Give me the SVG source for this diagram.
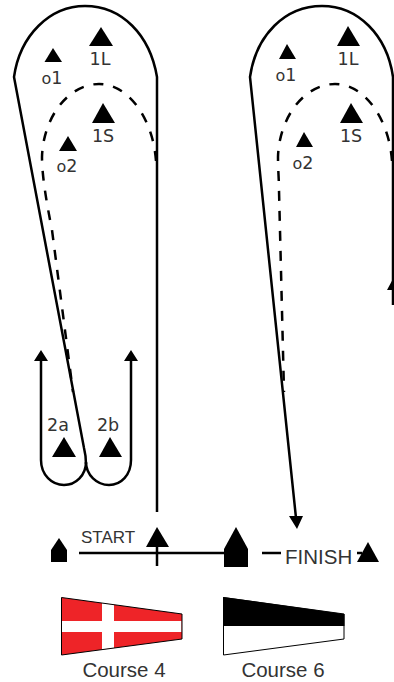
<svg xmlns="http://www.w3.org/2000/svg" width="394" height="682" viewBox="0 0 394 682">
<style>
.c{fill:none;stroke:#000;stroke-width:2.500}
.d{fill:none;stroke:#000;stroke-width:2.500;stroke-dasharray:10 10}
.m{font-family:"DejaVu Sans",sans-serif;font-size:17.500px;fill:#333;text-anchor:middle}
.s{font-size:16px}
.l{font-family:"Liberation Sans",sans-serif;fill:#333}
</style>
<rect width="394" height="682" fill="#fff"/>
<g id="connectors">
<path class="c" d="M157 512V77C150 35 122 6 85 6C50 6 20 35 14 77L84 448C86 456 86 460 86 464"/>
<path class="d" d="M156 161C153 118 128 84 99 84C68 84 43 118 42 157C42 175 46 200 52 230L73 392"/>
<path class="c" d="M41 358V460C41 475 52 485 64 485C76 485 86 475 86 462C86 475 97 485 109 485C121 485 131 475 131 460V358"/>
<path d="M34 361L41 350L48 361Z M124 361L131 350L138 361Z"/>
<path class="c" d="M296 518L250 77C256 35 285 6 322 6C358 6 387 35 393 77V305"/>
<path class="d" d="M392 161C389 118 364 84 335 84C304 84 279 118 278 157C278 170 279 180 279 190L284 392"/>
<path d="M289 516L303 516L297 529Z M387 290L394 277V290Z"/>
<path class="c" d="M79 553H235M157 547V566M262 553H281M357 553H362"/>
</g>
<g id="mark-1L-a"><path d="M101 27L113 46H89Z"/><text class="m" x="100" y="65">1L</text></g>
<g id="mark-o1-a"><path d="M53 48L62 62H44.500Z"/><text class="m" x="52" y="84"><tspan class="s">o</tspan>1</text></g>
<g id="mark-1S-a"><path d="M103 103L115 123H92Z"/><text class="m" x="103" y="142">1S</text></g>
<g id="mark-o2-a"><path d="M68 136L77 151H59Z"/><text class="m" x="67" y="172"><tspan class="s">o</tspan>2</text></g>
<g id="mark-1L-b"><path d="M348 26L360 46H337Z"/><text class="m" x="348" y="65">1L</text></g>
<g id="mark-o1-b"><path d="M287 44L296 59H279Z"/><text class="m" x="286" y="81"><tspan class="s">o</tspan>1</text></g>
<g id="mark-1S-b"><path d="M351 103L363 123H340Z"/><text class="m" x="351" y="142">1S</text></g>
<g id="mark-o2-b"><path d="M304 132L313 147H296Z"/><text class="m" x="303" y="169"><tspan class="s">o</tspan>2</text></g>
<g id="mark-2a"><path d="M64 437L76 457H52Z"/><text class="m" x="58" y="431">2a</text></g>
<g id="mark-2b"><path d="M110 437L122 457H99Z"/><text class="m" x="108" y="431">2b</text></g>
<g id="start-pin"><path d="M59 538L67 550V562H51V550Z"/></g>
<g id="start-mark"><path d="M157 527L169 547H146Z"/><text class="l" x="81" y="543" font-size="17">START</text></g>
<g id="committee-boat"><path d="M236 527L248 549V567H224V549Z"/></g>
<g id="finish"><text class="l" x="285" y="564" font-size="20.500">FINISH</text><path d="M368 542L379 562H357Z"/></g>
<g id="flag-4">
<path d="M61.500 597.500L182 614V639L61.500 655Z" fill="#ee2428"/>
<path d="M62 621H181.500V632H62ZM102 603L114 604.700V648L102 649.600Z" fill="#fff"/>
<path d="M61.500 597.500L182 614V639L61.500 655Z" fill="none" stroke="#000"/>
<text class="l" x="124" y="677" font-size="20.500" text-anchor="middle">Course 4</text>
</g>
<g id="flag-6">
<path d="M223.500 597.500L344 614V639L223.500 655Z" fill="#fff" stroke="#000"/>
<path d="M223 597L344.500 614V626H223Z"/>
<text class="l" x="283" y="677" font-size="20.500" text-anchor="middle">Course 6</text>
</g>
</svg>
